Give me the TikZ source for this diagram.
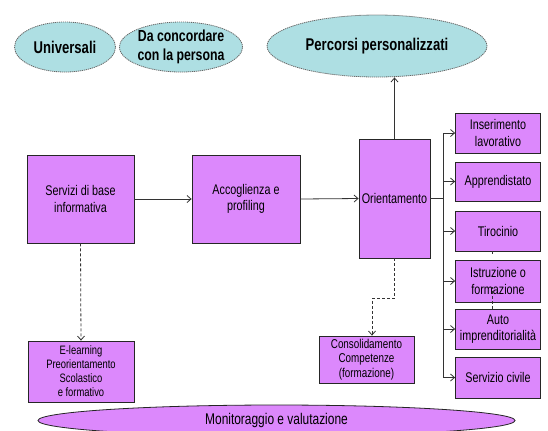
\documentclass[tikz,border=0pt]{standalone}
\usepackage{fontspec}
\setmainfont{Liberation Sans}[FakeStretch=0.77]
\usetikzlibrary{shapes.geometric,arrows.meta}
\definecolor{vio}{HTML}{DC88FC}
\definecolor{cya}{HTML}{AEDFE3}
\newcommand{\fsz}[1]{\fontsize{#1bp}{1.15\dimexpr#1bp\relax}\selectfont}
\tikzset{
  box/.style={draw=black!85, fill=vio, rectangle, align=center, inner sep=1bp, line width=0.8bp, font=\fsz{14}},
  smallbox/.style={box, font=\fsz{12.2}},
  cloud/.style={ellipse, draw=black!60, fill=cya, dash pattern=on 1.2bp off 0.8bp, line width=0.8bp, align=center, inner sep=0pt, font=\fsz{17}\bfseries},
  conn/.style={draw=black!80, line width=0.8bp},
  arr/.style={conn, -{Straight Barb[length=4bp,width=7bp]}},
  dconn/.style={conn, dash pattern=on 3bp off 2bp}
}
\begin{document}
\begin{tikzpicture}[x=1bp,y=-1bp]
\clip (0,0) rectangle (548,430);
\fill[white] (0,0) rectangle (548,430);
% top ellipses
\node[cloud, minimum width=101bp, minimum height=50bp] (univ) at (65,47) {Universali};
\node[cloud, minimum width=114bp, minimum height=50bp, font=\fontsize{16bp}{19.5bp}\selectfont\bfseries] (conc) at (181,47) {Da concordare\\con la persona};
\node[cloud, minimum width=220bp, minimum height=62bp] (perc) at (377,46) {Percorsi personalizzati};
% main boxes
\node[box, minimum width=107bp, minimum height=88bp] (serv) at (80.5,199) {Servizi di base\\informativa};
\node[box, minimum width=108bp, minimum height=88bp] (acc) at (246,199) {Accoglienza e\\profiling};
\node[box, minimum width=71bp, minimum height=119bp] (ori) at (394.5,198.5) {Orientamento};
% right boxes
\node[box, minimum width=85bp, minimum height=40bp] (ins) at (498,133) {Inserimento\\lavorativo};
\node[box, minimum width=85bp, minimum height=39bp] (app) at (498,181.5) {Apprendistato};
\node[box, minimum width=85bp, minimum height=40bp] (tir) at (498,231) {Tirocinio};
\node[box, minimum width=85bp, minimum height=42bp] (ist) at (498,281) {Istruzione o\\formazione};
\node[box, minimum width=85bp, minimum height=40bp] (auto) at (498,329) {Auto\\imprenditorialità};
\node[box, minimum width=85bp, minimum height=41bp] (civ) at (498,377.5) {Servizio civile};
% lower boxes
\node[smallbox, minimum width=106bp, minimum height=61bp] (elearn) at (81,371.5) {E-learning\\Preorientamento\\Scolastico\\e formativo};
\node[smallbox, minimum width=95bp, minimum height=47bp, font=\fsz{12.8}] (cons) at (366.5,359.5) {Consolidamento\\Competenze\\(formazione)};
% bottom ellipse
\node[ellipse, draw=black!85, fill=vio, line width=0.8bp, minimum width=477bp, minimum height=31bp, inner sep=0pt, font=\fsz{15.5}] (mon) at (276.5,420.5) {\raisebox{1bp}{Monitoraggio e valutazione}};
% connectors
\draw[arr] (serv.east) -- (acc.west);
\draw[arr] (acc.east) -- (ori.west);
\draw[arr] (ori.north) -- (ori.north |- perc.south);
\coordinate (tr) at (443,198);
\draw[conn] (ori.east) -- (ori.east -| tr);
\draw[conn] (ins.west -| tr) -- (civ.west -| tr);
\foreach \b in {ins,app,tir,ist,auto,civ}{
  \draw[arr] (\b.west -| tr) -- (\b.west);
}
\draw[dconn, -{Straight Barb[length=4bp,width=7bp]}] (serv.south) -- (elearn.north);
\draw[dconn, -{Straight Barb[length=4bp,width=7bp]}] (ori.south) -- ++(0,40) -| ([xshift=5.5bp]cons.north);
\coordinate (dx) at (492,0);
\draw[dconn] (tir.south -| dx) -- ++(0,5);
\draw[dconn] (auto.north -| dx) -- ++(0,-22);
\end{tikzpicture}
\end{document}
